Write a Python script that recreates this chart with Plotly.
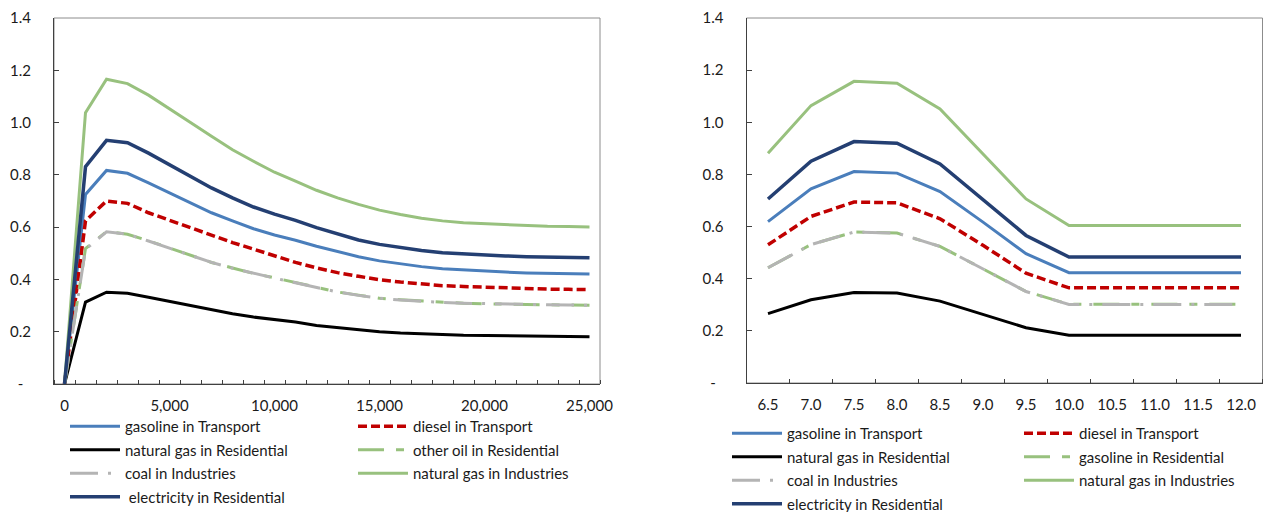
import plotly.graph_objects as go

# ---------------- data ----------------
x_left = [0, 1000, 2000, 3000, 4000, 5000, 6000, 7000, 8000, 9000, 10000,
          11000, 12000, 13000, 14000, 15000, 16000, 17000, 18000, 19000, 20000,
          21000, 22000, 23000, 24000, 25000]
x_left_ticks = [0, 5000, 10000, 15000, 20000, 25000]
x_left_ticktext = ["0", "5,000", "10,000", "15,000", "20,000", "25,000"]

gasoline_transport_L = [0, 0.725, 0.817, 0.806, 0.769, 0.731, 0.693, 0.655, 0.624, 0.594, 0.570,
                        0.550, 0.527, 0.506, 0.487, 0.471, 0.459, 0.449, 0.441, 0.436, 0.432,
                        0.428, 0.425, 0.423, 0.422, 0.421]
diesel_transport_L = [0, 0.624, 0.700, 0.691, 0.655, 0.626, 0.596, 0.567, 0.541, 0.516, 0.489,
                      0.465, 0.444, 0.426, 0.412, 0.399, 0.390, 0.383, 0.376, 0.373, 0.370,
                      0.367, 0.365, 0.363, 0.362, 0.361]
natgas_residential_L = [0, 0.313, 0.351, 0.347, 0.332, 0.316, 0.300, 0.284, 0.269, 0.256, 0.247,
                        0.237, 0.224, 0.216, 0.207, 0.200, 0.195, 0.191, 0.189, 0.186, 0.185,
                        0.184, 0.183, 0.182, 0.181, 0.181]
otheroil_residential_L = [0, 0.518, 0.583, 0.573, 0.548, 0.520, 0.493, 0.465, 0.444, 0.423, 0.406,
                          0.388, 0.369, 0.352, 0.340, 0.328, 0.322, 0.317, 0.312, 0.309, 0.307,
                          0.305, 0.304, 0.303, 0.302, 0.301]
coal_industries_L = [0, 0.515, 0.582, 0.573, 0.547, 0.519, 0.492, 0.465, 0.443, 0.423, 0.405,
                     0.387, 0.369, 0.352, 0.339, 0.328, 0.321, 0.316, 0.312, 0.309, 0.307,
                     0.305, 0.304, 0.303, 0.302, 0.301]
natgas_industries_L = [0, 1.038, 1.166, 1.149, 1.105, 1.054, 1.000, 0.948, 0.896, 0.852, 0.810,
                       0.776, 0.741, 0.712, 0.687, 0.665, 0.648, 0.634, 0.624, 0.617, 0.613,
                       0.609, 0.606, 0.603, 0.602, 0.601]
electricity_residential_L = [0, 0.831, 0.932, 0.923, 0.883, 0.839, 0.795, 0.750, 0.712, 0.677, 0.650,
                             0.626, 0.598, 0.573, 0.551, 0.534, 0.521, 0.511, 0.502, 0.497, 0.493,
                             0.490, 0.487, 0.485, 0.484, 0.483]

x_right = [6.5, 7.0, 7.5, 8.0, 8.5, 9.0, 9.5, 10.0, 10.5, 11.0, 11.5, 12.0]
x_right_ticktext = ["6.5", "7.0", "7.5", "8.0", "8.5", "9.0", "9.5", "10.0", "10.5", "11.0", "11.5", "12.0"]

gasoline_transport_R = [0.619, 0.745, 0.811, 0.805, 0.734, 0.617, 0.496, 0.423, 0.423, 0.423, 0.423, 0.423]
diesel_transport_R = [0.530, 0.639, 0.694, 0.691, 0.630, 0.528, 0.421, 0.365, 0.365, 0.365, 0.365, 0.365]
natgas_residential_R = [0.266, 0.319, 0.347, 0.345, 0.314, 0.263, 0.212, 0.183, 0.183, 0.183, 0.183, 0.183]
gasoline_residential_R = [0.442, 0.531, 0.579, 0.575, 0.524, 0.438, 0.351, 0.302, 0.302, 0.302, 0.302, 0.302]
coal_industries_R = [0.442, 0.531, 0.579, 0.575, 0.524, 0.438, 0.351, 0.301, 0.301, 0.301, 0.301, 0.301]
natgas_industries_R = [0.881, 1.064, 1.157, 1.150, 1.051, 0.880, 0.706, 0.604, 0.604, 0.604, 0.604, 0.604]
electricity_residential_R = [0.706, 0.851, 0.926, 0.920, 0.840, 0.702, 0.566, 0.483, 0.483, 0.483, 0.483, 0.483]

y_ticks = [0, 0.2, 0.4, 0.6, 0.8, 1.0, 1.2, 1.4]
y_ticktext = ["-\u00a0\u00a0", "0.2", "0.4", "0.6", "0.8", "1.0", "1.2", "1.4"]

# ---------------- styles ----------------
C_LBLUE = "#4A7EBB"
C_RED = "#C00000"
C_BLACK = "#000000"
C_GREEN = "#98C17E"
C_GRAY = "#B4B4B4"
C_DBLUE = "#243F72"
FONT = "Lato"
FS = 15
TXT = "#1a1a1a"

# figure is a bit larger than the window so nothing pushes the margins;
# the browser shows the top-left 1271x512 (page body has an 8px margin)
W = 1320
H = 560
OFF = 8

fig = go.Figure()

def add(x, y, name, color, width, dash, xa, ya, legend, grp):
    fig.add_trace(go.Scatter(
        x=x, y=y, name=name, mode="lines",
        line=dict(color=color, width=width, dash=dash),
        xaxis=xa, yaxis=ya, legend=legend, legendgroup=grp, hoverinfo="skip"))

red_dash = "9px,4px"
green_dash = "26px,12px,8px,12px"
gray_dash = "28px,10px,3px,10px"

# left chart (legend = col1, legend2 = col2)
add(x_left, gasoline_transport_L, "gasoline in Transport", C_LBLUE, 3, "solid", "x", "y", "legend", "L1")
add(x_left, diesel_transport_L, "diesel in Transport", C_RED, 3.5, red_dash, "x", "y", "legend2", "L2")
add(x_left, natgas_residential_L, "natural gas in Residential", C_BLACK, 3, "solid", "x", "y", "legend", "L3")
add(x_left, otheroil_residential_L, "other oil in Residential", C_GREEN, 3, green_dash, "x", "y", "legend2", "L4")
add(x_left, coal_industries_L, "coal in Industries", C_GRAY, 3, gray_dash, "x", "y", "legend", "L5")
add(x_left, natgas_industries_L, "natural gas in Industries", C_GREEN, 3, "solid", "x", "y", "legend2", "L6")
add(x_left, electricity_residential_L, " electricity in Residential", C_DBLUE, 3.5, "solid", "x", "y", "legend", "L7")

# right chart (legend3 = col1, legend4 = col2)
add(x_right, gasoline_transport_R, "gasoline in Transport", C_LBLUE, 3, "solid", "x2", "y2", "legend3", "R1")
add(x_right, diesel_transport_R, "diesel in Transport", C_RED, 3.5, red_dash, "x2", "y2", "legend4", "R2")
add(x_right, natgas_residential_R, "natural gas in Residential", C_BLACK, 3, "solid", "x2", "y2", "legend3", "R3")
add(x_right, gasoline_residential_R, "gasoline in Residential", C_GREEN, 3, green_dash, "x2", "y2", "legend4", "R4")
add(x_right, coal_industries_R, "coal in Industries", C_GRAY, 3, gray_dash, "x2", "y2", "legend3", "R5")
add(x_right, natgas_industries_R, "natural gas in Industries", C_GREEN, 3, "solid", "x2", "y2", "legend4", "R6")
add(x_right, electricity_residential_R, "electricity in Residential", C_DBLUE, 3.5, "solid", "x2", "y2", "legend3", "R7")

axis_common = dict(showgrid=False, zeroline=False, showline=True, linecolor="#404040", linewidth=1,
                   automargin=False, ticklabeloverflow="allow",
                   tickfont=dict(family=FONT, size=FS, color=TXT), fixedrange=True)

# pixel boxes (screen coords of the reference, shifted by body offset)
L_x0, L_x1, L_top, L_bot = 54 - OFF, 600 - OFF, 18 - OFF, 384 - OFF
R_x0, R_x1, R_top, R_bot = 746.5 - OFF, 1262.5 - OFF, 18 - OFF, 383 - OFF

fig.update_layout(
    template="none",
    width=W, height=H,
    margin=dict(l=0, r=0, t=0, b=0, pad=0),
    paper_bgcolor="white", plot_bgcolor="white",
    font=dict(family=FONT, size=FS, color=TXT),
    xaxis=dict(domain=[L_x0 / W, L_x1 / W], anchor="y", range=[-500, 25500],
               tickmode="array", tickvals=x_left_ticks, ticktext=x_left_ticktext,
               ticks="", ticklabelstandoff=8,
               minor=dict(ticks="inside", ticklen=4, tickcolor="#404040", tick0=500, dtick=1000,
                          showgrid=False),
               **axis_common),
    yaxis=dict(domain=[1 - L_bot / H, 1 - L_top / H], anchor="x", range=[0, 1.4],
               tickmode="array", tickvals=y_ticks, ticktext=y_ticktext,
               ticks="inside", ticklen=5, tickcolor="#404040", ticklabelstandoff=19,
               **axis_common),
    xaxis2=dict(domain=[R_x0 / W, R_x1 / W], anchor="y2", range=[6.25, 12.25],
                tickmode="array", tickvals=x_right, ticktext=x_right_ticktext,
                ticks="", ticklabelstandoff=8,
                minor=dict(ticks="inside", ticklen=4, tickcolor="#404040", tick0=6.75, dtick=0.5,
                           showgrid=False),
                **axis_common),
    yaxis2=dict(domain=[1 - R_bot / H, 1 - R_top / H], anchor="x2", range=[0, 1.4],
                tickmode="array", tickvals=y_ticks, ticktext=y_ticktext,
                ticks="inside", ticklen=5, tickcolor="#404040", ticklabelstandoff=19,
                **axis_common),
    showlegend=True,
)

leg_common = dict(orientation="v", xref="paper", yref="paper", xanchor="left", yanchor="top",
                  bgcolor="rgba(0,0,0,0)", borderwidth=0, itemwidth=50,
                  traceorder="grouped", tracegroupgap=1,
                  font=dict(family=FONT, size=FS, color=TXT), itemclick=False, itemdoubleclick=False)

# legend text starts ~59px right of the legend's x; first row centre ~17px below its top
LEG_TOP_L = 427 - OFF - 17
LEG_TOP_R = 434 - OFF - 17
fig.update_layout(
    legend=dict(x=(124 - 59 - OFF) / W, y=1 - LEG_TOP_L / H, **leg_common),
    legend2=dict(x=(412 - 59 - OFF) / W, y=1 - LEG_TOP_L / H, **leg_common),
    legend3=dict(x=(786 - 59 - OFF) / W, y=1 - LEG_TOP_R / H, **leg_common),
    legend4=dict(x=(1078 - 59 - OFF) / W, y=1 - LEG_TOP_R / H, **leg_common),
)

# plot-area borders (lighter gray)
for xr, yr in (("x domain", "y domain"), ("x2 domain", "y2 domain")):
    fig.add_shape(type="rect", xref=xr, yref=yr, x0=0, x1=1, y0=0, y1=1,
                  line=dict(color="#8c8c8c", width=1), layer="below")

fig.write_html("out.html")
